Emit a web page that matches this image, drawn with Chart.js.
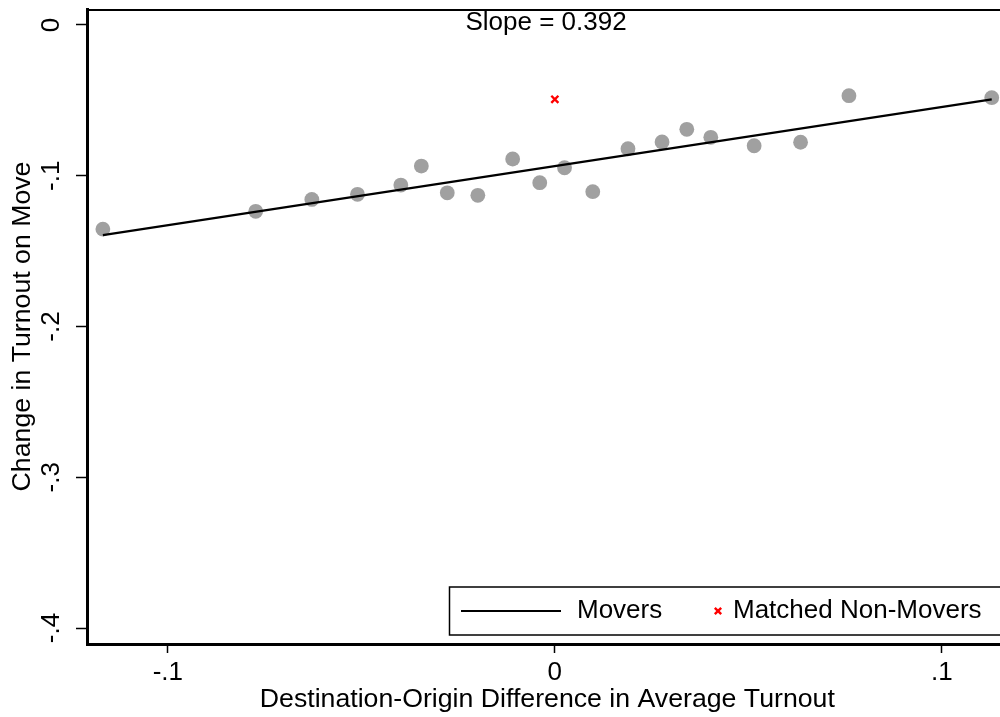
<!DOCTYPE html>
<html>
<head>
<meta charset="utf-8">
<title>Change in Turnout on Move</title>
<script src="https://cdn.jsdelivr.net/npm/chart.js@4/dist/chart.umd.min.js"></script>
<style>
  html, body { margin: 0; padding: 0; background: #fff; overflow: hidden; }
  #wrap { width: 1015px; height: 717px; }
</style>
</head>
<body>
<div id="wrap"><canvas id="myChart"></canvas></div>
<script>
// binned means for movers
const binX = [-0.1168, -0.0773, -0.0628, -0.0510, -0.0398, -0.0345, -0.0278, -0.0199, -0.0109, -0.0039,
              0.0025, 0.0098, 0.0189, 0.0277, 0.0341, 0.0403, 0.0515, 0.0635, 0.0760, 0.1129];
const binY = [-0.1354, -0.1236, -0.1157, -0.1123, -0.1062, -0.0936, -0.1113, -0.1130, -0.0889, -0.1046,
              -0.0947, -0.1106, -0.0821, -0.0776, -0.0692, -0.0745, -0.0801, -0.0778, -0.0469, -0.0482];
// fitted line ends
const fitX = [-0.1168, 0.1129];
const fitY = [-0.1394, -0.0493];
// matched non-movers
const nonMoverX = [0];
const nonMoverY = [-0.0493];

const xTicks = [-0.1, 0, 0.1];
const yTicks = [0, -0.1, -0.2, -0.3, -0.4];
const slopeLabel = 'Slope = 0.392';

const FONT = { family: '"Liberation Sans", Arial, sans-serif', size: 26 };
const TITLE_FONT = { family: FONT.family, size: 26.7 };

const zip = (xs, ys) => xs.map((x, i) => ({ x: x, y: ys[i] }));
// Stata style labels: -.1, 0, .1
const fmt = (v) => (v === 0 ? '0' : (v < 0 ? '-' : '') + String(Math.abs(v)).replace(/^0/, ''));

const framePlugin = {
  id: 'frame',
  afterDatasetsDraw(chart) {
    const { ctx, chartArea } = chart;
    ctx.save();
    // top outline of plot region
    ctx.strokeStyle = '#000';
    ctx.lineWidth = 2;
    ctx.beginPath();
    ctx.moveTo(chartArea.left, chartArea.top + 1);
    ctx.lineTo(chartArea.right + 10, chartArea.top + 1);
    ctx.stroke();

    // slope note
    ctx.fillStyle = '#000';
    ctx.font = `${FONT.size}px ${FONT.family}`;
    ctx.textAlign = 'center';
    ctx.textBaseline = 'middle';
    ctx.fillText(slopeLabel, 546, chartArea.top + 14);

    // legend box
    const boxLeft = 449.5;
    const boxBottom = chartArea.bottom - 9;
    const boxTop = boxBottom - 48;
    const midY = (boxTop + boxBottom) / 2;
    ctx.fillStyle = '#fff';
    ctx.fillRect(boxLeft, boxTop, chart.width - boxLeft + 20, boxBottom - boxTop);
    ctx.lineWidth = 1.5;
    ctx.strokeStyle = '#000';
    ctx.strokeRect(boxLeft, boxTop, chart.width - boxLeft + 20, boxBottom - boxTop);

    const movers = chart.data.datasets[0];
    const nonMovers = chart.data.datasets[2];
    ctx.lineWidth = movers.borderWidth;
    ctx.beginPath();
    ctx.moveTo(461, midY);
    ctx.lineTo(561, midY);
    ctx.stroke();

    ctx.fillStyle = '#000';
    ctx.textAlign = 'left';
    ctx.fillText(movers.label, 577, midY);

    ctx.strokeStyle = nonMovers.borderColor;
    ctx.lineWidth = nonMovers.borderWidth;
    Chart.helpers.drawPoint(ctx, { pointStyle: 'crossRot', radius: 4.5, borderWidth: nonMovers.borderWidth, rotation: 0 }, 718, midY);
    ctx.fillText(nonMovers.label, 733, midY);
    ctx.restore();
  }
};

const ctx = document.getElementById('myChart').getContext('2d');
const chart = new Chart(ctx, {
  type: 'scatter',
  data: {
    datasets: [
      {
        label: 'Movers',
        data: zip(fitX, fitY),
        showLine: true,
        borderColor: '#000',
        borderWidth: 2.2,
        pointRadius: 0,
      },
      {
        label: 'Bins',
        data: zip(binX, binY),
        backgroundColor: 'rgb(160,160,160)',
        borderWidth: 0,
        pointRadius: 7.4,
      },
      {
        label: 'Matched Non-Movers',
        data: zip(nonMoverX, nonMoverY),
        pointStyle: 'crossRot',
        pointRadius: 5,
        borderColor: '#ff0000',
        borderWidth: 2.4,
      },
    ],
  },
  options: {
    responsive: true,
    maintainAspectRatio: false,
    animation: false,
    layout: { padding: { top: 9, right: 5, left: 0, bottom: 0 } },
    plugins: {
      legend: { display: false },
      tooltip: { enabled: false },
    },
    scales: {
      x: {
        type: 'linear',
        min: -0.1209,
        max: 0.1170,
        afterBuildTicks: (s) => { s.ticks = xTicks.map((v) => ({ value: v })); },
        afterFit: (s) => { s.height = 73; s.paddingLeft = 0; s.paddingRight = 0; },
        grid: { drawOnChartArea: false, tickLength: 9, tickWidth: 1.5, tickColor: '#000' },
        border: { display: true, width: 3, color: '#000' },
        ticks: { font: FONT, color: '#000', padding: 4, callback: (v) => fmt(v) },
        title: {
          display: true,
          text: 'Destination-Origin Difference in Average Turnout',
          font: TITLE_FONT,
          color: '#000',
          padding: { top: 0, bottom: 1 },
        },
      },
      y: {
        type: 'linear',
        min: -0.4106,
        max: 0.0106,
        afterBuildTicks: (s) => { s.ticks = yTicks.map((v) => ({ value: v })); },
        afterFit: (s) => { s.width = 87; s.paddingTop = 0; s.paddingBottom = 0; },
        grid: { drawOnChartArea: false, tickLength: 11, tickWidth: 1.5, tickColor: '#000' },
        border: { display: true, width: 3, color: '#000' },
        ticks: {
          font: FONT,
          color: '#000',
          minRotation: 90,
          maxRotation: 90,
          crossAlign: 'center',
          padding: 9,
          callback: (v) => fmt(v),
        },
        title: {
          display: true,
          text: 'Change in Turnout on Move',
          font: TITLE_FONT,
          color: '#000',
          padding: { top: 7, bottom: 0 },
        },
      },
    },
  },
  plugins: [framePlugin],
});
</script>
</body>
</html>
